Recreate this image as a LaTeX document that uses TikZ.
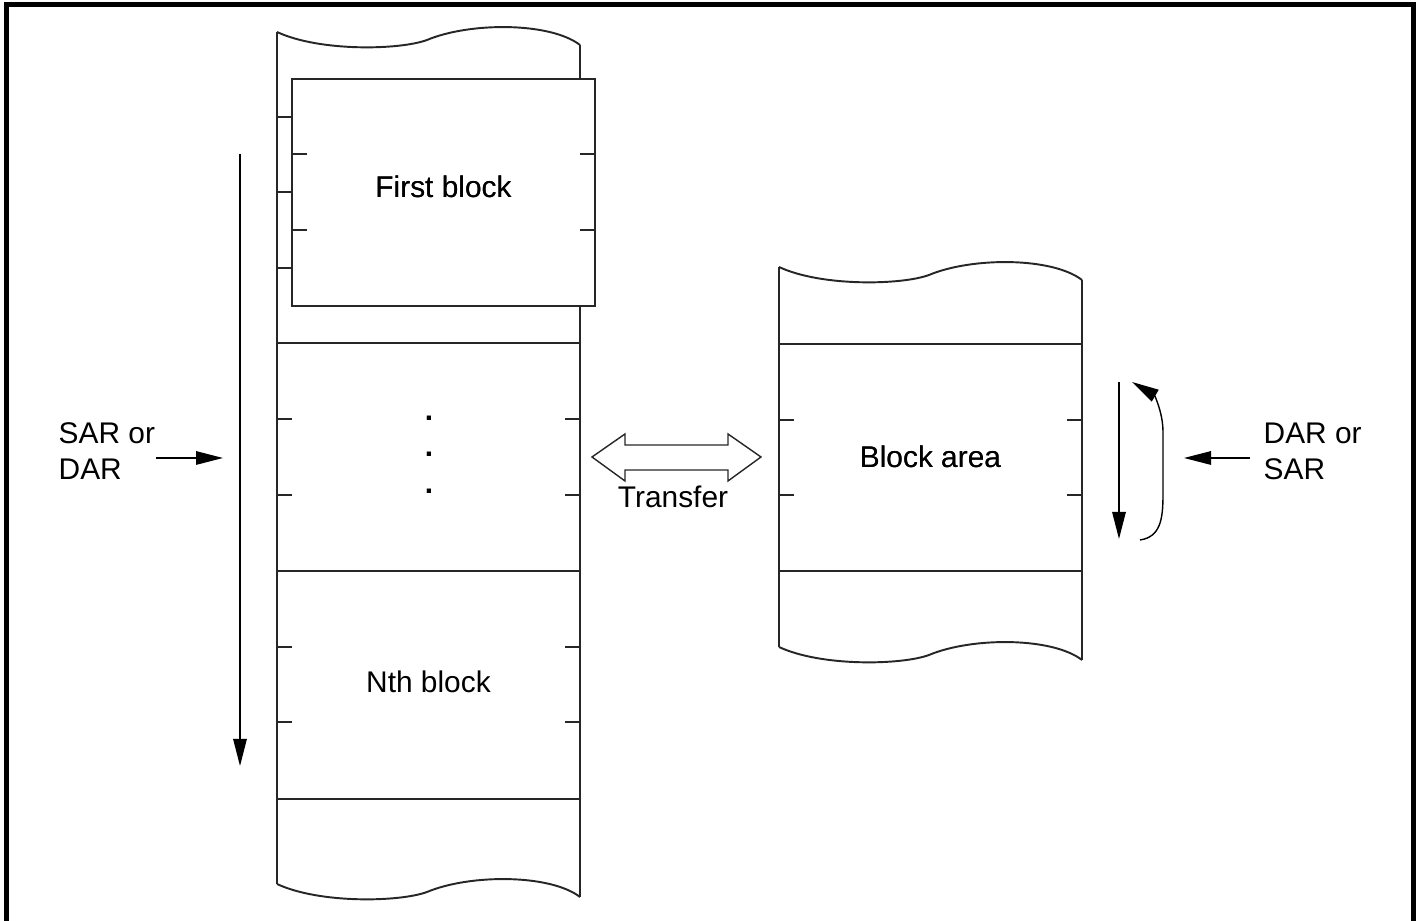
\documentclass[tikz,border=0pt]{standalone}
\usepackage{fontspec}
\setmainfont{Liberation Sans}
\usetikzlibrary{arrows.meta}
\colorlet{inkgray}{black!85}
% torn top/bottom edge of a memory strip, from its left end (#1,#2)
\newcommand{\tornedge}[2]{%
  \draw[memline] (#1,#2) .. controls ({#1+43},{#2+20}) and ({#1+123},{#2+18}) .. ({#1+150},{#2+8})
    .. controls ({#1+193},{#2-10}) and ({#1+273},{#2-10}) .. ({#1+303},{#2+13});}
\newcommand{\sideticks}[3]{% ticks at y=#3 on both walls #1 and #2
  \draw[tickline] (#1,#3)--({#1+15},#3); \draw[tickline] ({#2-15},#3)--(#2,#3);}

\begin{document}
\begin{tikzpicture}[x=0.1mm,y=-0.1mm,>={Triangle[length=2.7mm,width=1.35mm]},
  memline/.style={line width=0.55pt,draw=inkgray},
  tickline/.style={line width=0.4pt,draw=inkgray},
  lbl/.style={font=\fontsize{8.5}{10.2}\selectfont,inner sep=0pt},
  ptr/.style={->,line width=0.4pt}]
\useasboundingbox (0,0) rectangle (1421,921);
\draw[line width=0.45mm] (6.5,921)--(6.5,4.5)--(1413.5,4.5)--(1413.5,921);
% source strip
\tornedge{277}{32} \tornedge{277}{884}
\draw[memline] (277,32)--(277,884); \draw[memline] (580,45)--(580,897);
\foreach \yy in {343,571,799} \draw[memline] (277,\yy)--(580,\yy);
\foreach \yy in {117,192,268} \draw[tickline] (277,\yy)--(292,\yy);
\foreach \yy in {419,495,647,722} \sideticks{277}{580}{\yy}
\draw[memline,fill=white] (292,79) rectangle (595,306);
\foreach \yy in {154,230} \sideticks{292}{595}{\yy}
\node[lbl,anchor=base] (first) at (443.5,198) {First block};
\foreach \yy [count=\i] in {421,457,494} \node[lbl,font=\fontsize{8.5}{10.2}\selectfont\bfseries,anchor=base] (dot\i) at (429,\yy) {.};
\node[lbl,anchor=base] (nth) at (428.5,693) {Nth block};
% block area strip
\tornedge{779}{267} \tornedge{779}{647}
\draw[memline] (779,267)--(779,647); \draw[memline] (1082,280)--(1082,660);
\foreach \yy in {344,571} \draw[memline] (779,\yy)--(1082,\yy);
\foreach \yy in {420,495} \sideticks{779}{1082}{\yy}
\node[lbl,anchor=base] (area) at (930.5,468) {Block area};
% transfer
\draw[tickline] (592,457)--(625,434)--(625,445)--(728,445)--(728,434)--(761,457)
  --(728,481)--(728,470)--(625,470)--(625,481)--cycle;
\node[lbl,anchor=base] (xfer) at (673,508) {Transfer};
% address registers
\node[lbl,align=left,anchor=west] (srcreg) at (58,451) {SAR or\\DAR};
\node[lbl,align=left,anchor=west] (dstreg) at (1263,451) {DAR or\\SAR};
\coordinate (scanT) at (240,154); \coordinate (scanB) at (240,766);
\coordinate (srcP) at (156,458); \coordinate (srcQ) at (223,458);
\coordinate (dstP) at (1250,458); \coordinate (dstQ) at (1184,458);
\coordinate (rptT) at (1119,382); \coordinate (rptB) at (1119,539);
\coordinate (wrapB) at (1140,540); \coordinate (wrapT) at (1132,382);
\draw[ptr] (scanT)--(scanB); \draw[ptr] (srcP)--(srcQ);
\draw[ptr] (dstP)--(dstQ); \draw[ptr] (rptT)--(rptB);
\draw[ptr] (wrapB) .. controls (1160,537) and (1163,520) .. (1163,495)--(1163,432)
  .. controls (1163,412) and (1154,395) .. (wrapT);
\end{tikzpicture}
\end{document}
